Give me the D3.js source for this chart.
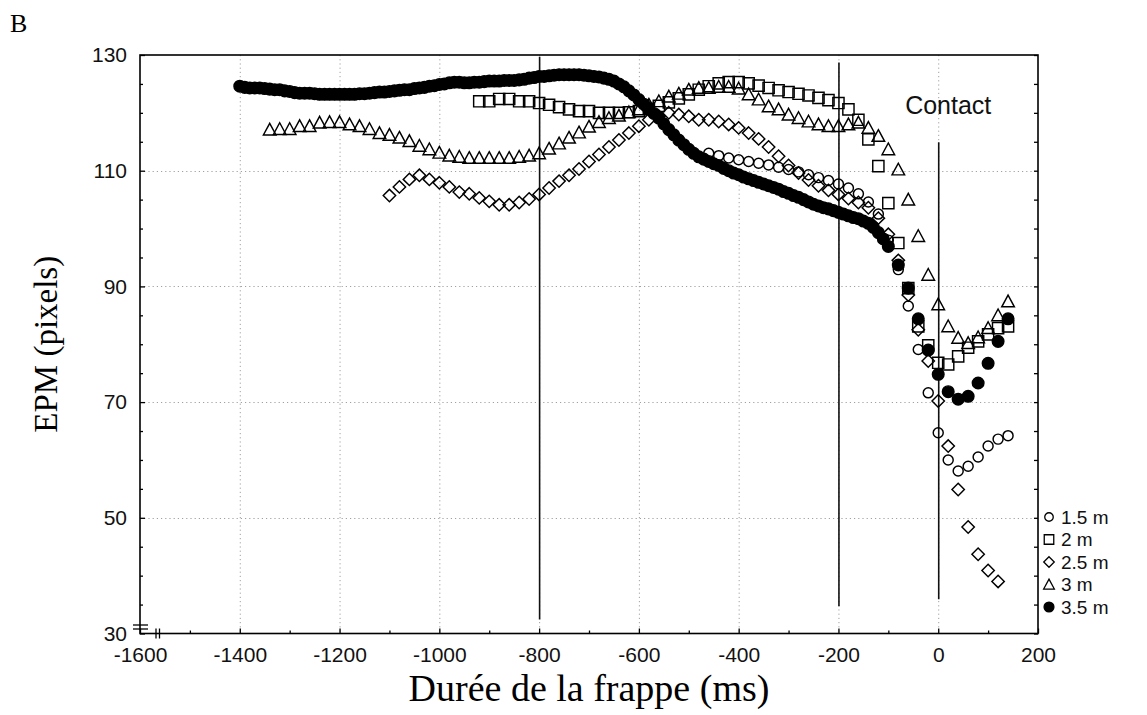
<!DOCTYPE html>
<html><head><meta charset="utf-8">
<script src="https://cdn.jsdelivr.net/npm/d3@7"></script>
<style>body{margin:0;background:#fff}svg{display:block}</style>
</head><body>
<svg id="c" width="1147" height="715"></svg>
<script>
// ---------- data ----------
const xTicks = [-1600,-1400,-1200,-1000,-800,-600,-400,-200,0,200];
const yTicks = [30,50,70,90,110,130];
const seriesNames = ["1.5 m","2 m","2.5 m","3 m","3.5 m"];
const eventTimes = [-800,-200,0];
const eventTop = [129.7,128.7,114.9];
const eventBottom = [32.4,34.7,35.9];
const contactLabel = "Contact";

const s15 = [[-460,113.0],[-440,112.6],[-420,112.2],[-400,111.9],[-380,111.6],[-360,111.3],[-340,111.0],[-320,110.6],[-300,110.2],[-280,109.8],[-260,109.3],[-240,108.8],[-220,108.3],[-200,107.7],[-180,107.0],[-160,106.0],[-140,104.6],[-120,102.5],[-100,98.0],[-80,92.9],[-60,86.6],[-40,79.1],[-20,71.6],[0,64.7],[20,60.0],[40,58.1],[60,58.9],[80,60.5],[100,62.4],[120,63.6],[140,64.2]];

const s2 = [[-920,122.0],[-900,122.0],[-880,122.4],[-860,122.4],[-840,122.0],[-820,122.0],[-800,121.7],[-780,121.4],[-760,121.0],[-740,120.6],[-720,120.3],[-700,120.3],[-680,120.0],[-660,120.0],[-640,120.0],[-620,120.1],[-600,120.3],[-580,120.7],[-560,121.2],[-540,121.8],[-520,122.5],[-500,123.2],[-480,124.0],[-460,124.6],[-440,125.1],[-420,125.3],[-400,125.3],[-380,125.1],[-360,124.7],[-340,124.3],[-320,123.9],[-300,123.6],[-280,123.3],[-260,123.0],[-240,122.6],[-220,122.2],[-200,121.7],[-180,120.6],[-160,118.8],[-140,115.4],[-120,110.8],[-100,104.4],[-80,97.5],[-60,89.7],[-40,83.1],[-20,79.8],[0,76.8],[20,76.5],[40,77.9],[60,79.4],[80,80.5],[100,81.7],[120,82.8],[140,83.1]];

const s25 = [[-1100,105.7],[-1080,107.2],[-1060,108.5],[-1040,109.2],[-1020,108.5],[-1000,107.9],[-980,107.2],[-960,106.3],[-940,106.0],[-920,105.3],[-900,104.7],[-880,104.1],[-860,104.1],[-840,104.5],[-820,105.1],[-800,105.9],[-780,107.0],[-760,108.2],[-740,109.2],[-720,110.3],[-700,111.6],[-680,112.8],[-660,114.1],[-640,115.3],[-620,116.5],[-600,117.7],[-580,118.8],[-560,119.4],[-540,120.0],[-520,119.7],[-500,119.4],[-480,118.8],[-460,118.8],[-440,118.5],[-420,118.0],[-400,117.4],[-380,116.5],[-360,115.5],[-340,114.1],[-320,112.5],[-300,110.9],[-280,109.6],[-260,108.4],[-240,107.4],[-220,106.6],[-200,105.9],[-180,105.2],[-160,104.5],[-140,103.6],[-120,101.8],[-100,99.0],[-80,94.5],[-60,88.5],[-40,82.5],[-20,77.1],[0,70.2],[20,62.4],[40,54.9],[60,48.4],[80,43.7],[100,40.9],[120,39.0]];

const s3 = [[-1340,117.1],[-1320,117.2],[-1300,117.2],[-1280,117.7],[-1260,117.7],[-1240,118.3],[-1220,118.4],[-1200,118.4],[-1180,118.0],[-1160,117.7],[-1140,117.2],[-1120,116.5],[-1100,116.2],[-1080,115.7],[-1060,115.1],[-1040,114.3],[-1020,113.7],[-1000,113.1],[-980,112.6],[-960,112.4],[-940,112.2],[-920,112.2],[-900,112.2],[-880,112.2],[-860,112.2],[-840,112.4],[-820,112.6],[-800,113.0],[-780,113.8],[-760,114.7],[-740,115.7],[-720,116.6],[-700,117.6],[-680,118.4],[-660,119.1],[-640,119.5],[-620,120.1],[-600,120.6],[-580,121.4],[-560,122.0],[-540,122.8],[-520,123.3],[-500,124.0],[-480,124.3],[-460,124.3],[-440,124.5],[-420,124.5],[-400,124.2],[-380,123.2],[-360,122.3],[-340,121.1],[-320,120.6],[-300,119.7],[-280,119.1],[-260,118.5],[-240,118.0],[-220,117.7],[-200,117.7],[-180,118.0],[-160,118.3],[-140,117.4],[-120,116.0],[-100,113.7],[-80,110.2],[-60,105.0],[-40,98.7],[-20,92.0],[0,86.9],[20,83.1],[40,81.1],[60,80.2],[80,81.2],[100,82.8],[120,85.0],[140,87.4]];

const s35 = [[-1400,124.6],[-1390,124.4],[-1380,124.3],[-1370,124.3],[-1360,124.3],[-1350,124.2],[-1340,124.1],[-1330,124.0],[-1320,124.0],[-1310,123.8],[-1300,123.7],[-1290,123.5],[-1280,123.4],[-1270,123.4],[-1260,123.4],[-1250,123.3],[-1240,123.2],[-1230,123.2],[-1220,123.2],[-1210,123.2],[-1200,123.2],[-1190,123.2],[-1180,123.2],[-1170,123.2],[-1160,123.3],[-1150,123.3],[-1140,123.4],[-1130,123.5],[-1120,123.6],[-1110,123.6],[-1100,123.7],[-1090,123.8],[-1080,123.9],[-1070,124.0],[-1060,124.0],[-1050,124.2],[-1040,124.3],[-1030,124.4],[-1020,124.6],[-1010,124.7],[-1000,124.9],[-990,125.0],[-980,125.2],[-970,125.3],[-960,125.3],[-950,125.2],[-940,125.2],[-930,125.3],[-920,125.3],[-910,125.4],[-900,125.5],[-890,125.5],[-880,125.5],[-870,125.6],[-860,125.6],[-850,125.6],[-840,125.7],[-830,125.8],[-820,126.0],[-810,126.1],[-800,126.3],[-790,126.3],[-780,126.4],[-770,126.5],[-760,126.6],[-750,126.6],[-740,126.6],[-730,126.6],[-720,126.6],[-710,126.5],[-700,126.4],[-690,126.3],[-680,126.2],[-670,126.0],[-660,125.8],[-650,125.5],[-640,125.0],[-630,124.5],[-620,123.8],[-610,123.1],[-600,122.3],[-590,121.5],[-580,120.7],[-570,119.9],[-560,119.1],[-550,118.1],[-540,117.1],[-530,116.2],[-520,115.3],[-510,114.5],[-500,113.7],[-490,113.0],[-480,112.4],[-470,112.0],[-460,111.6],[-450,111.2],[-440,110.9],[-430,110.4],[-420,110.0],[-410,109.6],[-400,109.3],[-390,108.9],[-380,108.6],[-370,108.3],[-360,108.0],[-350,107.7],[-340,107.4],[-330,107.1],[-320,106.8],[-310,106.4],[-300,106.1],[-290,105.7],[-280,105.4],[-270,105.0],[-260,104.6],[-250,104.2],[-240,103.9],[-230,103.6],[-220,103.4],[-210,103.1],[-200,102.8],[-190,102.5],[-180,102.2],[-170,101.9],[-160,101.7],[-150,101.3],[-140,100.9],[-130,100.2],[-120,99.3],[-110,98.2],[-100,96.9],[-80,93.7],[-60,89.7],[-40,84.4],[-20,79.0],[0,74.8],[20,71.8],[40,70.5],[60,71.0],[80,73.3],[100,76.7],[120,80.5],[140,84.4]];

// ---------- drawing ----------
const M = {left:140, right:1038, top:55, bottom:633.5};
const svg = d3.select("#c");
const x = d3.scaleLinear().domain([xTicks[0], xTicks[xTicks.length-1]]).range([M.left, M.right]);
const y = d3.scaleLinear().domain([yTicks[0], yTicks[yTicks.length-1]]).range([M.bottom, M.top]);
const SANS = "'Liberation Sans', Arial, sans-serif";
const SERIF = "'Liberation Serif', 'Times New Roman', serif";

// grid (dotted)
const grid = svg.append("g").attr("stroke","#a0a0a0").attr("stroke-width",1).attr("stroke-dasharray","1.2,3");
grid.selectAll("line.gx").data(xTicks.slice(1,-1)).join("line")
  .attr("x1",d=>x(d)+0.5).attr("x2",d=>x(d)+0.5).attr("y1",M.top).attr("y2",M.bottom);
grid.selectAll("line.gy").data(yTicks.slice(1,-1)).join("line")
  .attr("y1",d=>Math.round(y(d))+0.5).attr("y2",d=>Math.round(y(d))+0.5).attr("x1",M.left).attr("x2",M.right);

// axes
const minorX = d3.range(xTicks[0]+100, xTicks[xTicks.length-1], 200);
const minorY = d3.range(yTicks[0], yTicks[yTicks.length-1]+1, 5).filter(v=>!yTicks.includes(v));
const styleAxis = g => {
  g.select(".domain").remove();
  g.selectAll(".tick line").attr("stroke","#000").attr("stroke-width",1.3);
  g.selectAll("text").attr("font-family",SANS).attr("font-size",21).attr("fill","#111");
};
svg.append("g").attr("transform",`translate(0,${M.bottom})`)
  .call(d3.axisBottom(x).tickValues(xTicks).tickSize(-5).tickPadding(14).tickFormat(d=>String(d)))
  .call(styleAxis);
svg.append("g").attr("transform",`translate(0,${M.bottom})`)
  .call(d3.axisBottom(x).tickValues(minorX).tickSize(-3).tickFormat(""))
  .call(styleAxis);
svg.append("g").attr("transform",`translate(${M.left},0)`)
  .call(d3.axisLeft(y).tickValues(yTicks).tickSize(-5).tickPadding(13).tickFormat(d=>String(d)))
  .call(styleAxis);
svg.append("g").attr("transform",`translate(${M.left},0)`)
  .call(d3.axisLeft(y).tickValues(minorY).tickSize(-3).tickFormat(""))
  .call(styleAxis);
svg.append("g").attr("transform",`translate(${M.right},0)`)
  .call(d3.axisRight(y).tickValues(yTicks.concat(minorY)).tickSize(-4).tickFormat(""))
  .call(styleAxis);

// frame
svg.append("rect").attr("x",M.left).attr("y",M.top).attr("width",M.right-M.left).attr("height",M.bottom-M.top)
  .attr("fill","none").attr("stroke","#000").attr("stroke-width",1.6);

// axis break marks
const brk = svg.append("g").attr("stroke","#000").attr("stroke-width",1.3);
[-8.5,-4.5].forEach(o=>brk.append("line").attr("x1",M.left-7).attr("x2",M.left+8).attr("y1",M.bottom+o).attr("y2",M.bottom+o));
[16,19.5].forEach(o=>brk.append("line").attr("x1",M.left+o).attr("x2",M.left+o).attr("y1",M.bottom-5).attr("y2",M.bottom+5));

// event lines
svg.append("g").selectAll("line").data(eventTimes).join("line")
  .attr("x1",d=>x(d)+0.5).attr("x2",d=>x(d)+0.5)
  .attr("y1",(d,i)=>y(eventTop[i])).attr("y2",(d,i)=>y(eventBottom[i]))
  .attr("stroke","#111").attr("stroke-width",1.6);

svg.append("text").attr("x",x(eventTimes[2])+10).attr("y",114).attr("text-anchor","middle")
  .attr("font-family",SANS).attr("font-size",25).attr("fill","#111").text(contactLabel);

// marker shapes
const shapes = {
  circle: r => d3.symbol(d3.symbolCircle, Math.PI*r*r)(),
  square: r => `M${-r},${-r}H${r}V${r}H${-r}Z`,
  diamond: r => `M0,${-r}L${r},0L0,${r}L${-r},0Z`,
  triangle: r => `M0,${-r}L${r},${r*0.85}L${-r},${r*0.85}Z`,
  dot: r => d3.symbol(d3.symbolCircle, Math.PI*r*r)()
};
const seriesDefs = [
  {data:s15, shape:"circle", r:5, fill:"none"},
  {data:s2, shape:"square", r:5.6, fill:"none"},
  {data:s25, shape:"diamond", r:6.2, fill:"none"},
  {data:s3, shape:"triangle", r:6.3, fill:"none"},
  {data:s35, shape:"dot", r:5.8, fill:"#000"}
];
const plot = svg.append("g");
seriesDefs.forEach(s=>{
  const p = shapes[s.shape](s.r);
  plot.append("g").selectAll("path").data(s.data).join("path")
    .attr("d",p).attr("transform",d=>`translate(${x(d[0])},${y(d[1])})`)
    .attr("fill",s.fill).attr("stroke","#000").attr("stroke-width",1.45);
});

// legend
const legY = d3.scalePoint().domain(seriesNames).range([517,607]);
const leg = svg.append("g");
seriesNames.forEach((n,i)=>{
  const s = seriesDefs[i];
  leg.append("path").attr("d",shapes[s.shape](s.r*0.85)).attr("transform",`translate(1049,${legY(n)})`)
    .attr("fill",s.fill).attr("stroke","#000").attr("stroke-width",1.3);
  leg.append("text").attr("x",1061).attr("y",legY(n)).attr("dy","0.36em")
    .attr("font-family",SANS).attr("font-size",19).attr("fill","#111").text(n);
});

// titles
svg.append("text").attr("x",(M.left+M.right)/2).attr("y",701).attr("text-anchor","middle")
  .attr("font-family",SERIF).attr("font-size",38).attr("fill","#000").text("Durée de la frappe (ms)");
svg.append("text").attr("transform",`translate(57,${(M.top+M.bottom)/2}) rotate(-90)`).attr("text-anchor","middle")
  .attr("font-family",SERIF).attr("font-size",33).attr("fill","#000").text("EPM (pixels)");
svg.append("text").attr("x",10).attr("y",32).attr("font-family",SERIF).attr("font-size",26).attr("fill","#000").text("B");
</script>
</body></html>
